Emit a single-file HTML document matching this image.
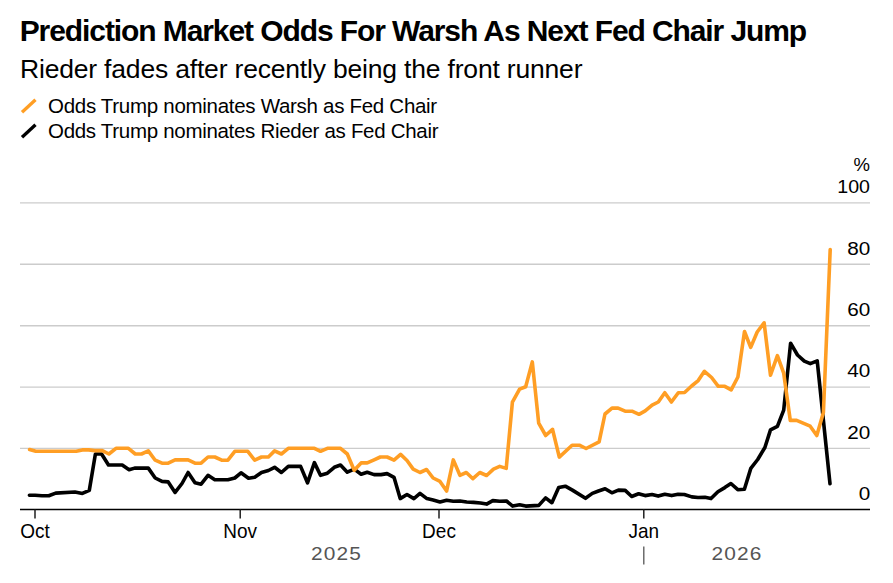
<!DOCTYPE html>
<html><head><meta charset="utf-8">
<style>
html,body{margin:0;padding:0;background:#fff;}
body{width:893px;height:583px;overflow:hidden;position:relative;font-family:"Liberation Sans",sans-serif;}
svg{position:absolute;left:0;top:0;}
text{font-family:"Liberation Sans",sans-serif;}
</style></head><body>
<svg width="893" height="583" viewBox="0 0 893 583">
<text x="19.7" y="41" font-size="30" font-weight="bold" fill="#000" textLength="787.5" lengthAdjust="spacing">Prediction Market Odds For Warsh As Next Fed Chair Jump</text>
<text x="20" y="78" font-size="26.5" fill="#000" textLength="562.5" lengthAdjust="spacing">Rieder fades after recently being the front runner</text>
<line x1="22" y1="112.2" x2="35.5" y2="99.8" stroke="#FF9E24" stroke-width="3.3"/>
<text x="48" y="112.7" font-size="20.5" fill="#000" textLength="389.2" lengthAdjust="spacing">Odds Trump nominates Warsh as Fed Chair</text>
<line x1="22" y1="137.2" x2="35.5" y2="124.8" stroke="#000" stroke-width="3.3"/>
<text x="48" y="137.6" font-size="20.5" fill="#000" textLength="390.5" lengthAdjust="spacing">Odds Trump nominates Rieder as Fed Chair</text>
<g stroke="#cccccc" stroke-width="1.4">
<line x1="20" y1="202.9" x2="870" y2="202.9"/>
<line x1="20" y1="264.3" x2="870" y2="264.3"/>
<line x1="20" y1="325.7" x2="870" y2="325.7"/>
<line x1="20" y1="387.1" x2="870" y2="387.1"/>
<line x1="20" y1="448.4" x2="870" y2="448.4"/>
</g>
<g font-size="18.5" fill="#000" text-anchor="end">
<text x="870" y="171">%</text>
<text transform="translate(870,192.9) scale(1.06,1)">100</text>
<g transform="translate(870.3,0) scale(1.12,1)">
<text x="0" y="254.7">80</text>
<text x="0" y="316.1">60</text>
<text x="0" y="377.5">40</text>
<text x="0" y="438.8">20</text>
<text x="0" y="499.9">0</text>
</g>
</g>
<path d="M29.4,495.2 L35.1,495.2 L42.0,495.8 L48.8,495.8 L55.7,493.1 L74.9,492.0 L82.4,493.4 L89.3,490.4 L95.4,454.0 L101.6,454.0 L108.5,465.0 L122.2,465.0 L129.1,469.8 L134.6,468.1 L148.3,468.1 L155.2,478.0 L162.0,481.4 L168.2,481.9 L175.1,492.4 L182.0,483.5 L188.1,472.5 L195.0,482.8 L201.1,484.2 L208.0,475.3 L214.8,479.7 L227.9,479.7 L234.8,478.0 L241.0,472.8 L248.5,478.3 L254.7,477.3 L261.5,472.5 L268.4,470.5 L274.6,467.3 L281.4,472.5 L288.3,466.4 L300.6,466.4 L307.5,482.8 L314.4,462.6 L320.5,475.3 L327.4,473.2 L334.3,467.3 L340.5,465.0 L347.3,472.2 L354.2,469.1 L361.1,474.2 L367.2,472.2 L374.1,474.6 L381.0,474.6 L387.1,473.6 L394.0,477.3 L400.2,498.6 L407.0,494.5 L413.9,498.6 L420.0,493.4 L426.9,498.6 L433.1,500.0 L440.0,502.0 L446.6,500.2 L453.3,501.3 L459.9,501.0 L466.7,502.0 L473.6,502.4 L480.5,503.0 L486.6,504.1 L492.8,500.6 L499.7,501.3 L506.5,501.0 L512.7,506.1 L519.6,504.8 L525.7,506.1 L538.8,505.4 L545.6,497.9 L551.9,502.7 L558.7,487.6 L565.3,486.2 L572.4,490.1 L585.5,498.3 L592.3,493.4 L598.5,491.0 L605.1,488.7 L611.9,492.8 L618.4,490.1 L625.2,490.4 L631.7,496.5 L638.6,493.8 L645.1,495.6 L652.0,494.5 L658.2,496.1 L664.8,494.2 L671.7,495.6 L678.1,494.2 L684.3,494.5 L691.8,496.9 L698.0,497.5 L704.9,497.2 L711.0,498.6 L717.9,491.7 L724.8,487.6 L730.9,483.5 L737.8,489.7 L744.4,489.3 L750.8,468.4 L757.7,459.5 L764.9,447.5 L770.5,429.9 L777.4,426.4 L783.7,410.1 L790.6,343.2 L797.5,355.0 L804.3,361.2 L810.3,363.7 L817.2,360.8 L830.0,483.7" fill="none" stroke="#000" stroke-width="3.6" stroke-linejoin="round" stroke-linecap="round"/>
<path d="M29.6,449.5 L35.8,451.3 L76.2,451.3 L82.4,449.9 L88.6,449.9 L94.8,450.6 L102.3,450.6 L108.9,454.0 L116.0,448.3 L128.4,448.3 L135.3,454.0 L141.5,454.0 L148.3,450.9 L155.2,460.2 L162.0,463.2 L168.2,463.2 L175.1,459.9 L188.1,459.9 L195.0,463.2 L201.1,463.2 L208.0,457.0 L214.8,457.0 L221.7,460.2 L227.9,460.2 L234.8,451.3 L247.8,451.3 L254.7,460.2 L261.5,457.0 L268.4,457.0 L274.6,450.9 L281.4,454.0 L288.3,448.3 L314.4,448.3 L320.5,451.3 L327.4,448.3 L340.5,448.3 L347.3,454.0 L354.2,470.3 L361.1,462.9 L367.2,462.9 L374.1,459.8 L380.3,457.0 L387.1,457.0 L394.0,460.2 L400.6,454.4 L407.0,460.5 L413.2,469.1 L420.0,472.5 L426.6,469.5 L433.1,478.0 L440.0,481.4 L446.6,491.0 L453.3,459.9 L459.9,475.3 L466.3,472.5 L472.9,478.7 L479.8,472.5 L486.6,475.5 L493.5,469.1 L499.7,466.4 L506.2,468.4 L512.4,402.2 L519.6,389.1 L525.7,386.7 L532.3,361.9 L538.7,423.1 L545.7,435.5 L552.5,429.3 L559.3,457.1 L572.1,445.2 L579.3,445.2 L586.1,448.5 L599.1,441.8 L605.0,414.0 L612.0,408.1 L618.1,408.1 L625.1,411.2 L632.0,411.2 L639.0,414.3 L645.2,410.9 L652.1,405.1 L658.3,402.0 L664.8,392.7 L671.4,402.0 L678.3,392.7 L684.6,392.5 L691.6,386.0 L698.2,380.6 L704.4,371.3 L711.6,377.5 L718.3,386.3 L724.8,386.3 L731.2,389.8 L737.9,377.0 L744.5,331.5 L750.7,347.4 L757.2,332.0 L764.1,322.8 L770.5,375.2 L777.4,355.7 L783.7,373.2 L790.3,420.4 L796.6,420.4 L810.2,426.2 L816.8,435.5 L823.4,412.4 L830.2,249.6" fill="none" stroke="#FF9E24" stroke-width="3.6" stroke-linejoin="round" stroke-linecap="round"/>
<line x1="20" y1="509.4" x2="870" y2="509.4" stroke="#000" stroke-width="1.5"/>
<g stroke="#111" stroke-width="1.4">
<line x1="35" y1="509" x2="35" y2="518.6"/>
<line x1="240.2" y1="509" x2="240.2" y2="518.6"/>
<line x1="439" y1="509" x2="439" y2="518.6"/>
<line x1="643.8" y1="509" x2="643.8" y2="518.6"/>
</g>
<line x1="643.8" y1="546.5" x2="643.8" y2="564.4" stroke="#555" stroke-width="1.3"/>
<g font-size="20" fill="#000" text-anchor="middle">
<text transform="translate(35,537.6) scale(0.95,1)">Oct</text>
<text transform="translate(240.2,537.6) scale(0.95,1)">Nov</text>
<text transform="translate(439,537.6) scale(0.95,1)">Dec</text>
<text transform="translate(643.8,537.6) scale(0.95,1)">Jan</text>
</g>
<g font-size="18.5" fill="#555" text-anchor="middle" letter-spacing="1">
<text transform="translate(336.6,559.6) scale(1.13,1)">2025</text>
<text transform="translate(737.1,559.6) scale(1.13,1)">2026</text>
</g>
</svg>
</body></html>
